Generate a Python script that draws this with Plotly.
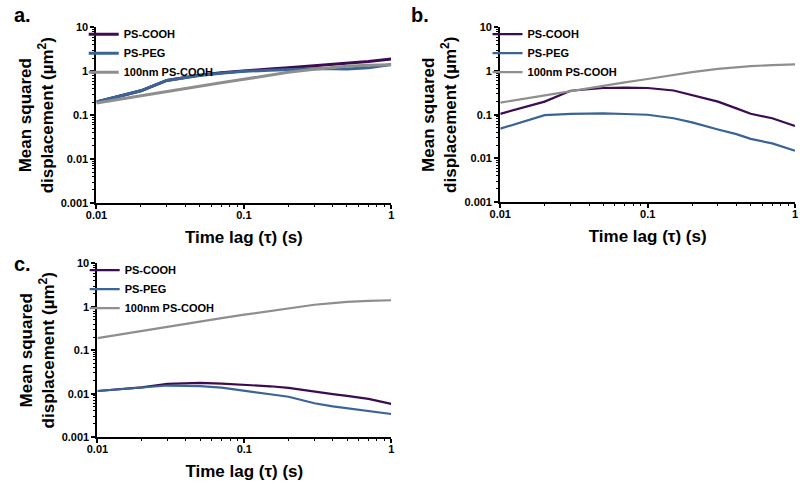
import plotly.graph_objects as go

# ---------------- data ----------------
tau = [0.01, 0.02, 0.03, 0.04, 0.05, 0.07, 0.1, 0.15, 0.2, 0.3, 0.4, 0.5, 0.7, 1.0]

series_names = ["PS-COOH", "PS-PEG", "100nm PS-COOH"]

# 100 nm PS-COOH reference (same in all panels)
ref_100nm = [0.19, 0.28, 0.35, 0.41, 0.46, 0.55, 0.66, 0.81, 0.95, 1.12, 1.22, 1.3, 1.37, 1.42]

# panel a
a_cooh = [0.2, 0.36, 0.62, 0.74, 0.82, 0.93, 1.03, 1.13, 1.2, 1.33, 1.43, 1.52, 1.68, 1.9]
a_peg = [0.2, 0.36, 0.62, 0.73, 0.8, 0.9, 1.0, 1.06, 1.1, 1.15, 1.15, 1.13, 1.2, 1.44]

# panel b
b_cooh = [0.105, 0.2, 0.355, 0.39, 0.41, 0.42, 0.41, 0.36, 0.28, 0.2, 0.14, 0.105, 0.083, 0.055]
b_peg = [0.048, 0.098, 0.105, 0.107, 0.107, 0.104, 0.1, 0.083, 0.067, 0.046, 0.036, 0.028, 0.022, 0.015]

# panel c
c_cooh = [0.0115, 0.014, 0.0168, 0.0172, 0.0177, 0.017, 0.016, 0.0148, 0.0136, 0.011, 0.0098, 0.0089, 0.0076, 0.0058]
c_peg = [0.0115, 0.0135, 0.0154, 0.0152, 0.0149, 0.0138, 0.0115, 0.0097, 0.0085, 0.006, 0.0051, 0.0046, 0.0041, 0.0034]

x_tickvals = [0.01, 0.1, 1]
x_ticktext = ["0.01", "0.1", "1"]
y_tickvals = [0.001, 0.01, 0.1, 1, 10]
y_ticktext = ["0.001", "0.01", "0.1", "1", "10"]

panel_labels = ["a.", "b.", "c."]

# ---------------- styling ----------------
FONT = "Liberation Sans, Arial, sans-serif"
colors = ["#3c0b50", "#3a6396", "#8e8e8e"]
W, H = 800, 485

# plot-area boxes in pixels: (left, right, top, bottom)
boxes = [(87, 387, 22, 202), (498, 798, 22, 201), (88, 387, 264, 442)]

panels = [
    (a_cooh, a_peg, ref_100nm, 3.0),
    (b_cooh, b_peg, ref_100nm, 2.2),
    (c_cooh, c_peg, ref_100nm, 2.2),
]

minor_x = [m * 10 ** e for e in (-2, -1) for m in range(2, 10)]
minor_y = [m * 10 ** e for e in (-3, -2, -1, 0) for m in range(2, 10)]

fig = go.Figure()
layout = dict(
    width=W, height=H,
    margin=dict(l=0, r=0, t=0, b=0),
    paper_bgcolor="white", plot_bgcolor="white",
    font=dict(family=FONT, color="black"),
    annotations=[],
)

for i, ((s1, s2, s3, lw), (l, r, t, b)) in enumerate(zip(panels, boxes)):
    n = "" if i == 0 else str(i + 1)
    leg = "legend" if i == 0 else "legend" + str(i + 1)
    for name, vals, col in zip(series_names, (s1, s2, s3), colors):
        fig.add_trace(go.Scatter(
            x=tau, y=vals, mode="lines", name=name,
            line=dict(color=col, width=lw),
            xaxis="x" + n, yaxis="y" + n, legend=leg,
        ))
    common = dict(
        type="log", showline=True, linewidth=2.2, linecolor="black",
        showgrid=False, zeroline=False, ticks="outside", ticklen=4,
        tickwidth=2, tickcolor="black",
        tickfont=dict(family=FONT, size=11, color="black", weight="bold"),
    )
    layout["xaxis" + n] = dict(
        common, domain=[l / W, r / W], range=[-2, 0], anchor="y" + n,
        tickvals=x_tickvals, ticktext=x_ticktext, ticklabelstandoff=-3,
        minor=dict(ticks="outside", ticklen=2, tickwidth=1.2, tickcolor="black",
                   tickvals=minor_x),
        title=dict(text="Time lag (τ) (s)", standoff=11,
                   font=dict(family=FONT, size=17, color="black", weight="bold")),
    )
    layout["yaxis" + n] = dict(
        common, domain=[1 - b / H, 1 - t / H], range=[-3, 1], anchor="x" + n,
        tickvals=y_tickvals, ticktext=y_ticktext,
        minor=dict(ticks="outside", ticklen=2, tickwidth=1.2, tickcolor="black",
                   tickvals=minor_y),
        title=dict(text="Mean squared<br>displacement (µm<sup>2</sup>)", standoff=3,
                   font=dict(family=FONT, size=17, color="black", weight="bold")),
    )
    layout[leg] = dict(
        x=(l - 13) / W, y=1 - (t - 8) / H, xanchor="left", yanchor="top",
        bgcolor="rgba(0,0,0,0)", borderwidth=0,
        font=dict(family=FONT, size=11, color="black", weight="bold"),
        tracegroupgap=0,
    )
    lab_pos = [(1, -4), (405, -4), (1, 251)][i]
    layout["annotations"].append(dict(
        text=panel_labels[i], xref="paper", yref="paper",
        x=lab_pos[0] / W, y=1 - lab_pos[1] / H, xanchor="left", yanchor="top",
        showarrow=False, font=dict(family=FONT, size=20, color="black", weight="bold"),
    ))

fig.update_layout(**layout)
fig.write_html("out.html", post_script="document.body.style.margin='0';",
               config={"displayModeBar": False})
